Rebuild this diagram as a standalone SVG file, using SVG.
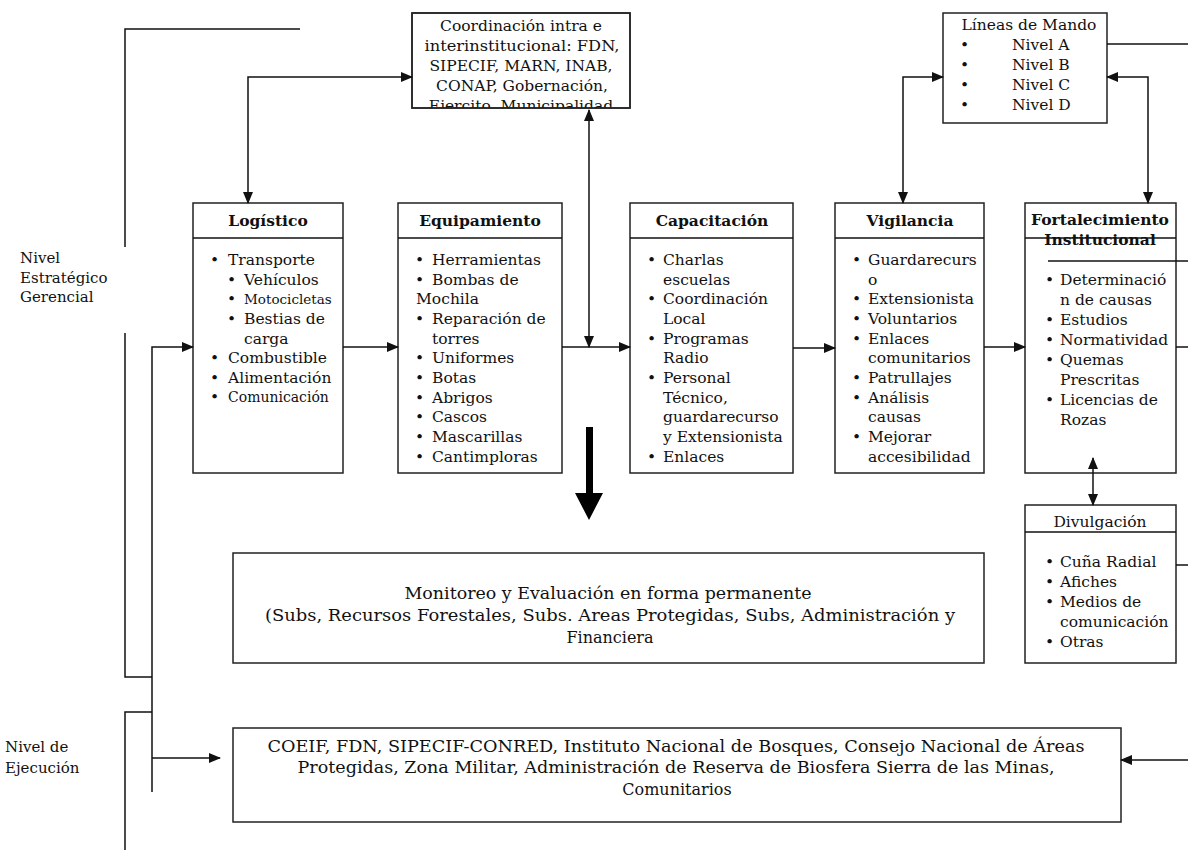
<svg xmlns="http://www.w3.org/2000/svg" width="1188" height="850" viewBox="0 0 1188 850">
<style>
text{font-family:"DejaVu Serif","Liberation Serif",serif;fill:#111;}
.b{font-size:15.5px;}
.s{font-size:13.5px;}
.h{font-size:15.5px;font-weight:bold;text-anchor:middle;}
.c{text-anchor:middle;}
.box{fill:#fff;stroke:#222;stroke-width:1.5;}
.ln{fill:none;stroke:#111;stroke-width:1.5;}
.lbl{font-size:15px;}
.big{font-size:16px;text-anchor:middle;}
</style>
<defs>
<marker id="ah" markerUnits="userSpaceOnUse" markerWidth="12" markerHeight="10" refX="11" refY="5" orient="auto-start-reverse">
<path d="M0,0 L12,5 L0,10 z" fill="#111"/>
</marker>
<clipPath id="clipCoord"><rect x="412" y="13" width="218" height="95"/></clipPath>
</defs>
<rect width="1188" height="850" fill="#fff"/>

<g id="labels">
<text class="lbl" x="20" y="263">Nivel</text>
<text class="lbl" x="20" y="283">Estratégico</text>
<text class="lbl" x="20" y="302">Gerencial</text>
<text class="lbl" x="5" y="752">Nivel de</text>
<text class="lbl" x="5" y="773">Ejecución</text>
</g>

<g id="coordinacion">
<rect class="box" x="412" y="13" width="218" height="95"/>
<g clip-path="url(#clipCoord)">
<text class="b c" x="521" y="31">Coordinación intra e</text>
<text class="b c" x="522" y="51" textLength="195" lengthAdjust="spacingAndGlyphs">interinstitucional:  FDN,</text>
<text class="b c" x="521" y="71">SIPECIF, MARN, INAB,</text>
<text class="b c" x="522" y="91">CONAP, Gobernación,</text>
<text class="b c" x="521" y="111">Ejercito, Municipalidad</text>
</g>
<rect x="412" y="13" width="218" height="95" fill="none" stroke="#222" stroke-width="1.5"/>
</g>

<g id="lineas-mando">
<rect class="box" x="943" y="13" width="164" height="110"/>
<text class="b c" x="1029" y="30">Líneas de Mando</text>
<text class="b" x="960" y="50">•</text><text class="b" x="1012" y="50">Nivel A</text>
<text class="b" x="960" y="70">•</text><text class="b" x="1012" y="70">Nivel B</text>
<text class="b" x="960" y="90">•</text><text class="b" x="1012" y="90">Nivel C</text>
<text class="b" x="960" y="110">•</text><text class="b" x="1012" y="110">Nivel D</text>
</g>

<g id="logistico">
<rect class="box" x="193" y="203" width="150" height="270"/>
<line class="ln" x1="193" y1="238" x2="343" y2="238"/>
<text class="h" x="268" y="226">Logístico</text>
<text class="b" x="210" y="265">•</text><text class="b" x="228" y="265">Transporte</text>
<text class="b" x="227" y="285">•</text><text class="b" x="244" y="285">Vehículos</text>
<text class="b" x="227" y="304">•</text><text class="s" x="244" y="304">Motocicletas</text>
<text class="b" x="227" y="324">•</text><text class="b" x="244" y="324">Bestias de</text>
<text class="b" x="244" y="344">carga</text>
<text class="b" x="210" y="363">•</text><text class="b" x="228" y="363">Combustible</text>
<text class="b" x="210" y="383">•</text><text class="b" x="228" y="383">Alimentación</text>
<text class="b" x="210" y="402">•</text><text class="s" x="228" y="402" style="font-size:14px">Comunicación</text>
</g>

<g id="equipamiento">
<rect class="box" x="398" y="203" width="164" height="270"/>
<line class="ln" x1="398" y1="238" x2="562" y2="238"/>
<text class="h" x="480" y="226">Equipamiento</text>
<text class="b" x="415" y="265">•</text><text class="b" x="432" y="265">Herramientas</text>
<text class="b" x="415" y="285">•</text><text class="b" x="432" y="285">Bombas de</text>
<text class="b" x="416" y="304">Mochila</text>
<text class="b" x="415" y="324">•</text><text class="b" x="432" y="324">Reparación de</text>
<text class="b" x="432" y="344">torres</text>
<text class="b" x="415" y="363">•</text><text class="b" x="432" y="363">Uniformes</text>
<text class="b" x="415" y="383">•</text><text class="b" x="432" y="383">Botas</text>
<text class="b" x="415" y="403">•</text><text class="b" x="432" y="403">Abrigos</text>
<text class="b" x="415" y="422">•</text><text class="b" x="432" y="422">Cascos</text>
<text class="b" x="415" y="442">•</text><text class="b" x="432" y="442">Mascarillas</text>
<text class="b" x="415" y="462">•</text><text class="b" x="432" y="462">Cantimploras</text>
</g>

<g id="capacitacion">
<rect class="box" x="630" y="203" width="163" height="270"/>
<line class="ln" x1="630" y1="238" x2="793" y2="238"/>
<text class="h" x="712" y="226">Capacitación</text>
<text class="b" x="647" y="265">•</text><text class="b" x="663" y="265">Charlas</text>
<text class="b" x="663" y="285">escuelas</text>
<text class="b" x="647" y="304">•</text><text class="b" x="663" y="304">Coordinación</text>
<text class="b" x="663" y="324">Local</text>
<text class="b" x="647" y="344">•</text><text class="b" x="663" y="344">Programas</text>
<text class="b" x="663" y="363">Radio</text>
<text class="b" x="647" y="383">•</text><text class="b" x="663" y="383">Personal</text>
<text class="b" x="663" y="403">Técnico,</text>
<text class="b" x="663" y="422">guardarecurso</text>
<text class="b" x="663" y="442">y Extensionista</text>
<text class="b" x="647" y="462">•</text><text class="b" x="663" y="462">Enlaces</text>
</g>

<g id="vigilancia">
<rect class="box" x="835" y="203" width="149" height="270"/>
<line class="ln" x1="835" y1="238" x2="984" y2="238"/>
<text class="h" x="910" y="226">Vigilancia</text>
<text class="b" x="852" y="265">•</text><text class="b" x="868" y="265">Guardarecurs</text>
<text class="b" x="868" y="285">o</text>
<text class="b" x="852" y="304">•</text><text class="b" x="868" y="304">Extensionista</text>
<text class="b" x="852" y="324">•</text><text class="b" x="868" y="324">Voluntarios</text>
<text class="b" x="852" y="344">•</text><text class="b" x="868" y="344">Enlaces</text>
<text class="b" x="868" y="363">comunitarios</text>
<text class="b" x="852" y="383">•</text><text class="b" x="868" y="383">Patrullajes</text>
<text class="b" x="852" y="403">•</text><text class="b" x="868" y="403">Análisis</text>
<text class="b" x="868" y="422">causas</text>
<text class="b" x="852" y="442">•</text><text class="b" x="868" y="442">Mejorar</text>
<text class="b" x="868" y="462">accesibilidad</text>
</g>

<g id="fortalecimiento">
<rect class="box" x="1025" y="203" width="151" height="270"/>
<text class="h" x="1100" y="225">Fortalecimiento</text>
<text class="h" x="1100" y="245">Institucional</text>
<line class="ln" x1="1025" y1="238" x2="1176" y2="238"/>
<text class="b" x="1045" y="285">•</text><text class="b" x="1060" y="285">Determinació</text>
<text class="b" x="1060" y="305">n de causas</text>
<text class="b" x="1045" y="325">•</text><text class="b" x="1060" y="325">Estudios</text>
<text class="b" x="1045" y="345">•</text><text class="b" x="1060" y="345">Normatividad</text>
<text class="b" x="1045" y="365">•</text><text class="b" x="1060" y="365">Quemas</text>
<text class="b" x="1060" y="385">Prescritas</text>
<text class="b" x="1045" y="405">•</text><text class="b" x="1060" y="405">Licencias de</text>
<text class="b" x="1060" y="425">Rozas</text>
</g>

<g id="divulgacion">
<rect class="box" x="1025" y="505" width="151" height="158"/>
<line class="ln" x1="1025" y1="532" x2="1176" y2="532"/>
<text class="b c" x="1100" y="527">Divulgación</text>
<text class="b" x="1045" y="567">•</text><text class="b" x="1060" y="567">Cuña Radial</text>
<text class="b" x="1045" y="587">•</text><text class="b" x="1060" y="587">Afiches</text>
<text class="b" x="1045" y="607">•</text><text class="b" x="1060" y="607">Medios de</text>
<text class="b" x="1060" y="627">comunicación</text>
<text class="b" x="1045" y="647">•</text><text class="b" x="1060" y="647">Otras</text>
</g>

<g id="monitoreo">
<rect class="box" x="233" y="553" width="751" height="110"/>
<text class="big" x="608" y="599" textLength="407" lengthAdjust="spacingAndGlyphs">Monitoreo y Evaluación en forma permanente</text>
<text class="big" x="610" y="621" textLength="690" lengthAdjust="spacingAndGlyphs">(Subs, Recursos Forestales, Subs. Areas Protegidas, Subs, Administración  y</text>
<text class="big" x="610" y="643">Financiera</text>
</g>

<g id="ejecucion">
<rect class="box" x="233" y="728" width="888" height="94"/>
<text class="big" x="676" y="752" textLength="817" lengthAdjust="spacingAndGlyphs">COEIF, FDN, SIPECIF-CONRED, Instituto Nacional de Bosques, Consejo Nacional de Áreas</text>
<text class="big" x="676" y="773" textLength="757" lengthAdjust="spacingAndGlyphs">Protegidas, Zona Militar, Administración de Reserva de Biosfera Sierra de las Minas,</text>
<text class="big" x="677" y="795">Comunitarios</text>
</g>

<g id="connectors">
<path class="ln" d="M300,29 H125 V247"/>
<path class="ln" d="M125,333 V677 H152"/>
<path class="ln" d="M152,712 H125 V850"/>
<path class="ln" d="M152,792 V347 H193" marker-end="url(#ah)"/>
<path class="ln" d="M152,758 H220" marker-end="url(#ah)"/>
<path class="ln" d="M343,347 H398" marker-end="url(#ah)"/>
<path class="ln" d="M562,347 H630" marker-end="url(#ah)"/>
<path class="ln" d="M589,110 V347" marker-start="url(#ah)" marker-end="url(#ah)"/>
<path class="ln" d="M793,348 H835" marker-end="url(#ah)"/>
<path class="ln" d="M984,347 H1025" marker-end="url(#ah)"/>
<path class="ln" d="M1176,347 H1188"/>
<path class="ln" d="M248,203 V77 H412" marker-start="url(#ah)" marker-end="url(#ah)"/>
<path class="ln" d="M903,203 V77 H943" marker-start="url(#ah)" marker-end="url(#ah)"/>
<path class="ln" d="M1148,203 V77 H1107" marker-start="url(#ah)" marker-end="url(#ah)"/>
<path class="ln" d="M1107,44 H1188"/>
<path class="ln" d="M1048,261 H1188"/>
<path class="ln" d="M1093,458 V505" marker-start="url(#ah)" marker-end="url(#ah)"/>
<path class="ln" d="M1176,565 H1188"/>
<path class="ln" d="M1188,760 H1121" marker-end="url(#ah)"/>
<polygon points="586,427 593,427 593,493 603,493 589,520 575,493 586,493" fill="#000"/>
</g>
</svg>
